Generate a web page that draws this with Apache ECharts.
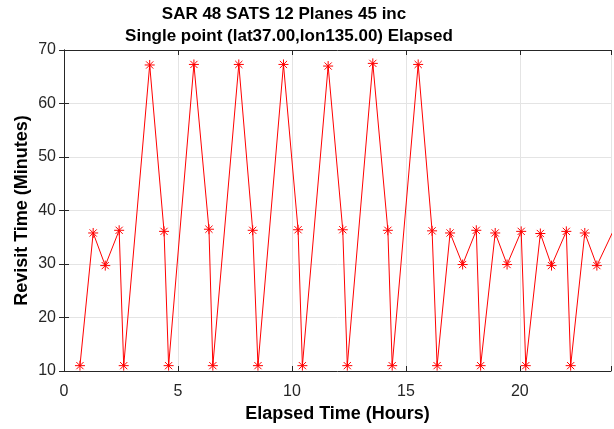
<!DOCTYPE html>
<html>
<head>
<meta charset="utf-8">
<script src="https://cdn.jsdelivr.net/npm/echarts@6/dist/echarts.min.js"></script>
<style>html,body{margin:0;padding:0;background:#fff}#c{width:614px;height:429px}</style>
</head>
<body>
<div id="c"></div>
<script>
var titleLines = ['SAR 48 SATS 12 Planes 45 inc', 'Single point (lat37.00,lon135.00) Elapsed'];
var xName = 'Elapsed Time (Hours)';
var yName = 'Revisit Time (Minutes)';
var elapsedHours = [0.70, 1.28, 1.81, 2.42, 2.62, 3.76, 4.39, 4.59, 5.70, 6.36, 6.53, 7.67, 8.28, 8.51, 9.63, 10.27, 10.46, 11.59, 12.23, 12.43, 13.55, 14.21, 14.40, 15.54, 16.15, 16.37, 16.94, 17.49, 18.09, 18.28, 18.92, 19.44, 20.06, 20.26, 20.90, 21.39, 22.04, 22.23, 22.85, 23.38, 24.10];
var revisitMinutes = [11.0, 35.8, 29.7, 36.3, 11.0, 67.2, 36.1, 11.0, 67.3, 36.5, 11.0, 67.3, 36.3, 11.0, 67.3, 36.4, 11.0, 67.0, 36.4, 11.0, 67.5, 36.3, 11.0, 67.3, 36.2, 11.0, 35.8, 29.9, 36.3, 11.0, 35.8, 29.9, 36.1, 11.0, 35.7, 29.7, 36.1, 11.0, 35.8, 29.7, 36.2];
var xTicks = [0, 5, 10, 15, 20];
var yTicks = [10, 20, 30, 40, 50, 60, 70];

var data = elapsedHours.map(function (x, i) { return [x, revisitMinutes[i]]; });
var axisCol = '#262626';
var font = '"Liberation Sans", Arial, Helvetica, sans-serif';
var star = 'path://M0,-5L0,5M-5,0L5,0M-3.6,-3.6L3.6,3.6M-3.6,3.6L3.6,-3.6';

var chart = echarts.init(document.getElementById('c'), null, {renderer: 'canvas'});
var baseX = {
  type: 'value', min: 0, max: 24, interval: 5,
  axisLine: {show: true, lineStyle: {color: axisCol, width: 1}},
  axisTick: {show: true, inside: true, length: 5, lineStyle: {color: axisCol}},
  splitLine: {show: false}
};
var baseY = {
  type: 'value', min: 10, max: 70, interval: 10,
  axisLine: {show: true, lineStyle: {color: axisCol, width: 1}},
  axisTick: {show: true, inside: true, length: 5, lineStyle: {color: axisCol}},
  splitLine: {show: false}
};
chart.setOption({
  animation: false,
  graphic: [
    {type: 'text', x: 284, y: 14, style: {text: titleLines[0], align: 'center', verticalAlign: 'middle',
      font: 'bold 17px ' + font, fill: '#000'}},
    {type: 'text', x: 289, y: 36, style: {text: titleLines[1], align: 'center', verticalAlign: 'middle',
      font: 'bold 17px ' + font, fill: '#000'}}
  ],
  grid: {left: 64, right: 3, top: 50, bottom: 58, containLabel: false},
  xAxis: [
    Object.assign({}, baseX, {
      position: 'bottom',
      name: xName, nameLocation: 'middle', nameGap: 32,
      nameTextStyle: {fontFamily: font, fontWeight: 'bold', fontSize: 18, color: '#000'},
      splitLine: {show: true, lineStyle: {color: '#e4e4e4', width: 1}},
      axisLabel: {margin: 13, fontFamily: font, fontSize: 16, color: axisCol,
        formatter: function (v) { return xTicks.indexOf(v) >= 0 ? String(v) : ''; }}
    }),
    Object.assign({}, baseX, {position: 'top', axisLabel: {show: false}})
  ],
  yAxis: [
    Object.assign({}, baseY, {
      position: 'left',
      name: yName, nameLocation: 'middle', nameGap: 33, nameMoveOverlap: false,
      nameTextStyle: {fontFamily: font, fontWeight: 'bold', fontSize: 18, color: '#000'},
      splitLine: {show: true, lineStyle: {color: '#e4e4e4', width: 1}},
      axisLabel: {margin: 8, fontFamily: font, fontSize: 16, color: axisCol,
        formatter: function (v) { return yTicks.indexOf(v) >= 0 ? String(v) : ''; }}
    }),
    Object.assign({}, baseY, {position: 'right', axisLabel: {show: false}})
  ],
  series: [{
    type: 'line', data: data, clip: true,
    symbol: star, symbolSize: 10, showAllSymbol: true,
    lineStyle: {color: '#ff0000', width: 1},
    itemStyle: {color: 'rgba(0,0,0,0)', borderColor: '#ff0000', borderWidth: 1}
  }]
});
</script>
</body>
</html>
